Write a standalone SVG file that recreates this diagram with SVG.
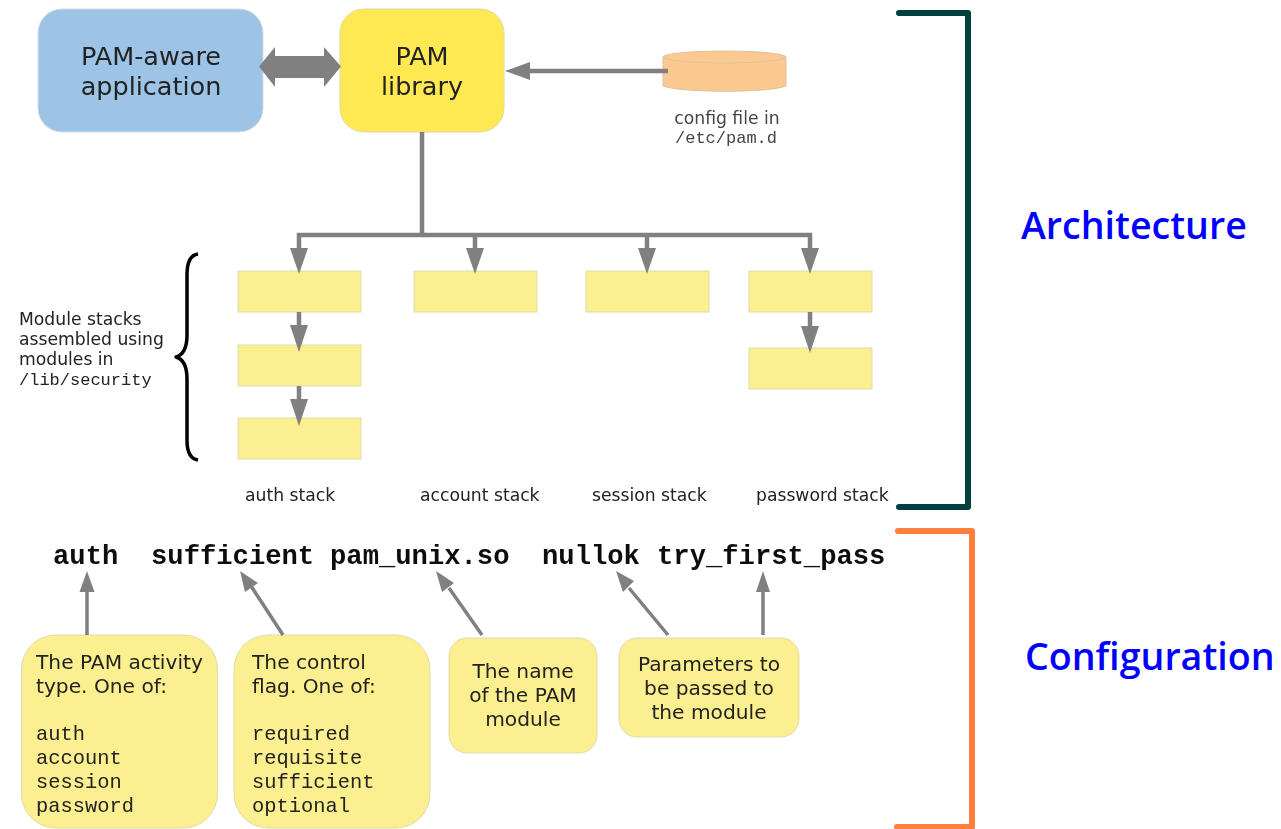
<svg xmlns="http://www.w3.org/2000/svg" width="1281" height="829" viewBox="0 0 1281 829">
<style>
.d{font-family:"DejaVu Sans",sans-serif;fill:#222}
.m{font-family:"Liberation Mono",monospace;fill:#222}
.b{font-family:"Liberation Mono",monospace;fill:#111;font-size:27.2px;font-weight:700}
.sm{font-size:17.2px}
.md{font-size:20.2px}
.lg{font-size:25.5px}
.c{text-anchor:middle}
.s{fill:#fbef8f;stroke:#dedbb0;stroke-width:1}
.g{stroke:#808080;stroke-width:4.5;fill:none}
.t{stroke:#808080;stroke-width:3.5;fill:none}
.a{fill:#808080}
.h{font-family:"Open Sans",sans-serif;font-size:37.6px;fill:#0000ff;font-weight:600}
</style>
<defs><filter id="soft" x="0" y="0" width="100%" height="100%" filterUnits="userSpaceOnUse"><feGaussianBlur stdDeviation="0.45"/></filter></defs>
<rect width="1281" height="829" fill="#fff"/>
<g filter="url(#soft)">
<g id="app"><rect x="38" y="9" width="225" height="123" rx="24" fill="#9dc3e6" stroke="#d5dde5"/><text class="d lg c" x="151" y="65">PAM-aware</text><text class="d lg c" x="151" y="95">application</text></g>
<g id="lib"><rect x="340" y="9" width="164" height="123" rx="24" fill="#ffe953" stroke="#e0d8a0"/><text class="d lg c" x="422" y="65">PAM</text><text class="d lg c" x="422" y="95">library</text></g>
<g id="config"><path d="M663 57V86C680 93 770 93 786 86V57Z" fill="#fbc98f" stroke="#dcc39c"/><ellipse cx="724.500" cy="57" rx="61.500" ry="6" fill="#fbc98f" stroke="#dcc39c"/><text class="d sm c" x="727" y="124" style="fill:#444">config file in</text><text class="m c" font-size="17" x="726" y="143" style="fill:#444">/etc/pam.d</text></g>
<g id="stack-auth-1"><rect class="s" x="238" y="271" width="123" height="41"/></g>
<g id="stack-auth-2"><rect class="s" x="238" y="345" width="123" height="41"/></g>
<g id="stack-auth-3"><rect class="s" x="238" y="418" width="123" height="41"/></g>
<g id="stack-account"><rect class="s" x="414" y="271" width="123" height="41"/></g>
<g id="stack-session"><rect class="s" x="586" y="271" width="123" height="41"/></g>
<g id="stack-password-1"><rect class="s" x="749" y="271" width="123" height="41"/></g>
<g id="stack-password-2"><rect class="s" x="749" y="348" width="123" height="41"/></g>
<g id="brace"><path d="M198 254C190 255 187 262 187 275V335C187 348 183 355 176 357C183 359 187 366 187 379V440C187 452 190 459 198 460" fill="none" stroke="#000" stroke-width="3.500" stroke-linejoin="round"/>
<text class="d sm" x="19" y="325">Module stacks</text><text class="d sm" x="19" y="345">assembled using</text><text class="d sm" x="19" y="365">modules in</text><text class="m" font-size="17" x="19" y="385">/lib/security</text></g>
<g id="stack-labels"><text class="d sm" x="245" y="501">auth stack</text><text class="d sm" x="420" y="501">account stack</text><text class="d sm" x="592" y="501">session stack</text><text class="d sm" x="756" y="501">password stack</text></g>
<g id="config-line"><text class="b" x="53" y="564">auth</text><text class="b" x="151" y="564">sufficient</text><text class="b" x="330" y="564">pam_unix.so</text><text class="b" x="542" y="564">nullok</text><text class="b" x="657" y="564">try_first_pass</text></g>
<g id="n1"><rect x="21.500" y="635" width="196" height="193" rx="34" class="s"/><text class="d md" x="36" y="669">The PAM activity</text><text class="d md" x="36" y="693">type. One of:</text><text class="m" font-size="20.400" x="36" y="740">auth</text><text class="m" font-size="20.400" x="36" y="764">account</text><text class="m" font-size="20.400" x="36" y="788">session</text><text class="m" font-size="20.400" x="36" y="812">password</text></g>
<g id="n2"><rect x="234" y="635" width="196" height="193" rx="34" class="s"/><text class="d md" x="252" y="669">The control</text><text class="d md" x="252" y="693">flag. One of:</text><text class="m" font-size="20.400" x="252" y="740">required</text><text class="m" font-size="20.400" x="252" y="764">requisite</text><text class="m" font-size="20.400" x="252" y="788">sufficient</text><text class="m" font-size="20.400" x="252" y="812">optional</text></g>
<g id="n3"><rect x="449" y="638" width="148" height="115" rx="18" class="s"/><text class="d md c" x="523" y="678">The name</text><text class="d md c" x="523" y="702">of the PAM</text><text class="d md c" x="523" y="726">module</text></g>
<g id="n4"><rect x="619" y="638" width="180" height="99" rx="18" class="s"/><text class="d md c" x="709" y="671">Parameters to</text><text class="d md c" x="709" y="695">be passed to</text><text class="d md c" x="709" y="719">the module</text></g>
<g id="connectors">
<path class="g" d="M422 132V235M299 250V235H810V250M475 235V250M647 235V250"/>
<path class="g" d="M525 71H668"/>
<path class="g" d="M299 312V326M299 386V400M810 312V330"/>
<path d="M259 66.500L275 47V56H324V47L341 66.500L324 87V78H275V87Z" class="a"/>
<path d="M505 71L530 62V80Z" class="a"/>
<path d="M290 248H308L299 274ZM466 248H484L475 274ZM638 248H656L647 274ZM801 248H819L810 274ZM290 325H308L299 352ZM290 399H308L299 426ZM801 326H819L810 353Z" class="a"/>
<path class="t" d="M87 635V590M283 635L251 586M482 635L449 588M668 635L629 588M763 635V590"/>
<path d="M87 571L94.500 592H79.500ZM240 571L258 583L245 592ZM436 571L454 583L442 592ZM616 571L634 581L623 592ZM763 571L770 592H756Z" class="a"/>
</g>
</g>
<g id="brackets"><path d="M899 13H968V507H899" fill="none" stroke="#003f3f" stroke-width="6" stroke-linecap="round" stroke-linejoin="round"/><path d="M898 531H972V827H897" fill="none" stroke="#ff7f3f" stroke-width="6" stroke-linecap="round" stroke-linejoin="round"/></g>
<text id="architecture" class="h" x="1021" y="239">Architecture</text><text id="configuration" class="h" x="1025" y="670">Configuration</text>
</svg>
